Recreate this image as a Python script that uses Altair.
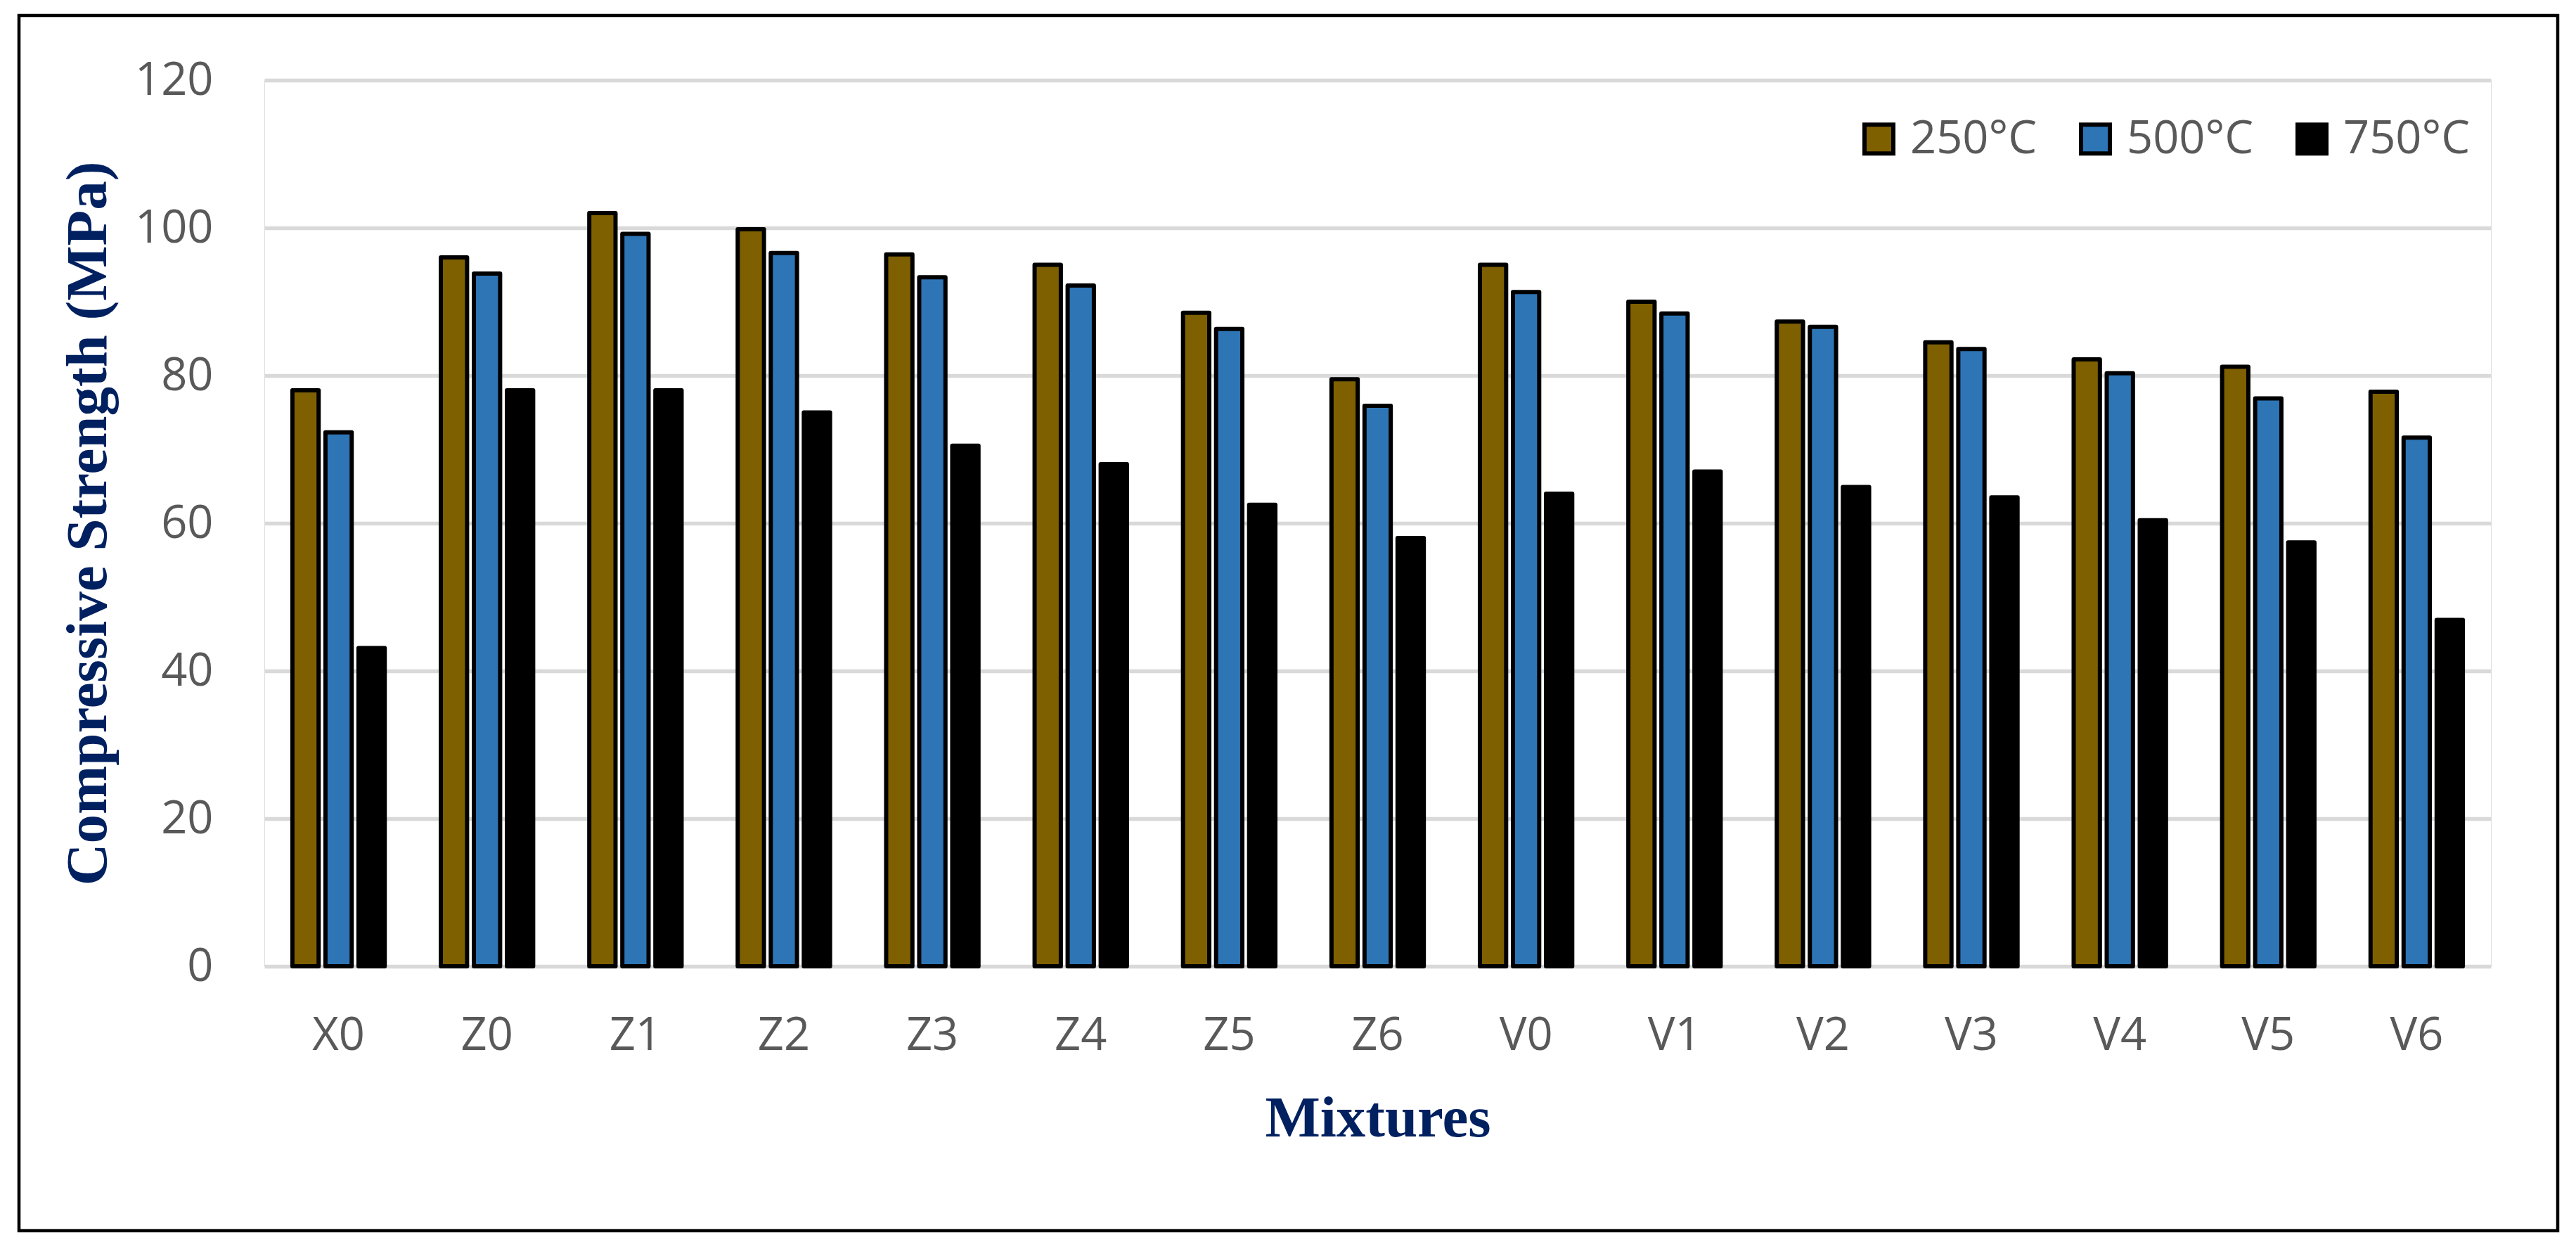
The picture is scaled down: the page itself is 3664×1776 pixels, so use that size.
import altair as alt
import pandas as pd

mixtures = ["X0", "Z0", "Z1", "Z2", "Z3", "Z4", "Z5", "Z6",
            "V0", "V1", "V2", "V3", "V4", "V5", "V6"]
temps = ["250°C", "500°C", "750°C"]
s250 = [78.0, 96.0, 102.0, 99.8, 96.4, 95.0, 88.5, 79.5, 95.0, 90.0, 87.3, 84.5, 82.2, 81.2, 77.8]
s500 = [72.3, 93.8, 99.2, 96.6, 93.3, 92.2, 86.3, 75.9, 91.3, 88.4, 86.6, 83.6, 80.3, 76.9, 71.6]
s750 = [43.1, 78.0, 78.0, 75.0, 70.5, 68.0, 62.5, 58.0, 64.0, 67.0, 64.9, 63.5, 60.4, 57.4, 46.9]
colors = ["#7F6000", "#2E75B6", "#000000"]
y_ticks = [0, 20, 40, 60, 80, 100, 120]

rows = []
for t, series in zip(temps, [s250, s500, s750]):
    for m, v in zip(mixtures, series):
        rows.append({"Mixture": m, "Temp": t, "Strength": v})
df = pd.DataFrame(rows)

W, H = 3167, 1260

bars = alt.Chart(df).mark_bar(stroke="black", strokeWidth=6, strokeJoin="round").encode(
    x=alt.X("Mixture:N", sort=mixtures,
            scale=alt.Scale(paddingInner=0.378, paddingOuter=0.189),
            axis=alt.Axis(title="Mixtures", labelAngle=0, labelFont="Open Sans",
                          labelFontSize=65, labelColor="#595959", labelPadding=118,
                          labelBaseline="alphabetic", ticks=False, tickSize=0,
                          domain=False, grid=False,
                          titleFont="Liberation Serif", titleFontSize=83,
                          titleFontWeight="bold", titleColor="#002060",
                          titleX=W / 2, titleY=241, titleBaseline="alphabetic",
                          titleAlign="center")),
    xOffset=alt.XOffset("Temp:N", sort=temps,
                        scale=alt.Scale(paddingInner=0.206, paddingOuter=0)),
    y=alt.Y("Strength:Q",
            scale=alt.Scale(domain=[0, 120], nice=False),
            axis=alt.Axis(title="Compressive Strength (MPa)", values=y_ticks,
                          labelFont="Open Sans", labelFontSize=65, labelColor="#595959",
                          labelPadding=73, labelBaseline="middle",
                          ticks=False, tickSize=0, domain=False,
                          grid=True, gridColor="#D9D9D9", gridWidth=5.5,
                          titleFont="Liberation Serif", titleFontSize=83,
                          titleFontWeight="bold", titleColor="#002060",
                          titleX=-226, titleY=H / 2, titleAngle=270,
                          titleAlign="center", titleBaseline="alphabetic")),
    color=alt.Color("Temp:N", sort=temps,
                    scale=alt.Scale(domain=temps, range=colors),
                    legend=alt.Legend(title=None, orient="none", direction="horizontal",
                                      legendX=2264, legendY=51, padding=0,
                                      symbolType="square", symbolSize=1681,
                                      symbolStrokeColor="black", symbolStrokeWidth=6,
                                      labelFont="Open Sans", labelFontSize=65,
                                      labelColor="#595959", labelOffset=12,
                                      labelLimit=600, columnPadding=50)),
)

frame_df = pd.DataFrame({"f": [0]})
frame = alt.Chart(frame_df).mark_rect(fill=None, stroke="black", strokeWidth=4.5,
                                       clip=False).encode(
    x=alt.value(-349), x2=alt.value(3262), y=alt.value(-92), y2=alt.value(1636)
)

chart = alt.layer(bars, frame).properties(
    width=W, height=H,
    autosize=alt.AutoSizeParams(type="none"),
    padding={"left": 368, "top": 106, "right": 100, "bottom": 380},
).configure_view(stroke=None).configure(background="white")

chart.save("out.html", embed_options={"renderer": "svg", "actions": False})
